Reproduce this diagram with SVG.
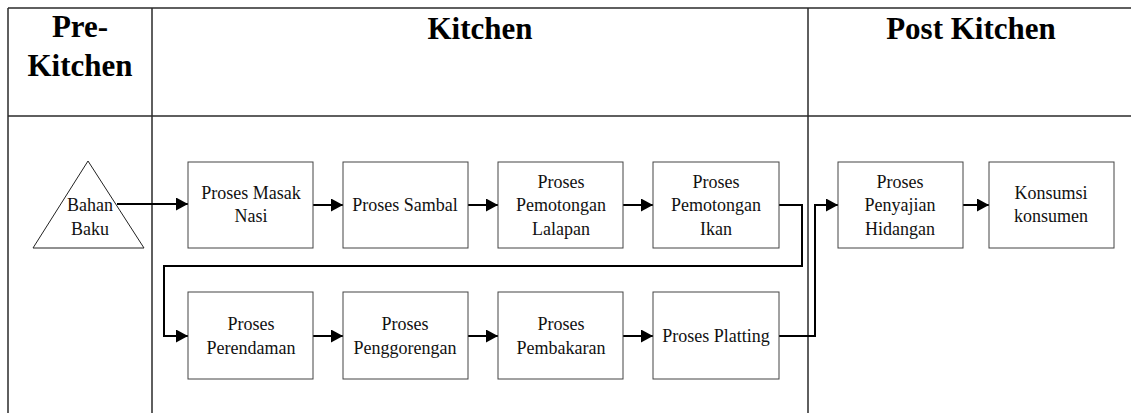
<svg xmlns="http://www.w3.org/2000/svg" width="1131" height="413" viewBox="0 0 1131 413">
  <defs>
    <marker id="arrow" viewBox="0 0 12 13" refX="12" refY="6.5" markerWidth="12" markerHeight="13" markerUnits="userSpaceOnUse" orient="auto">
      <path d="M0,0 L12,6.5 L0,13 Z" fill="#000"/>
    </marker>
  </defs>
  <style>
    .grid { stroke: #2a2a2a; stroke-width: 1.5; fill: none; }
    .hdr { font-family: "Liberation Serif", "Times New Roman", serif; font-weight: bold; font-size: 31px; fill: #000; text-anchor: middle; }
    .box { fill: #fff; stroke: #444; stroke-width: 1; }
    .lbl { font-family: "Liberation Serif", "Times New Roman", serif; font-size: 18px; fill: #111; text-anchor: middle; }
    .conn { fill: none; stroke: #000; stroke-width: 2; }
  </style>
  <rect width="1131" height="413" fill="#fff"/>

  <!-- swimlane table -->
  <g id="lanes">
    <line class="grid" x1="8" y1="8" x2="1131" y2="8"/>
    <line class="grid" x1="8" y1="116" x2="1131" y2="116"/>
    <line class="grid" x1="8" y1="8" x2="8" y2="413"/>
    <line class="grid" x1="152" y1="8" x2="152" y2="413"/>
    <line class="grid" x1="808" y1="8" x2="808" y2="413"/>
    <text class="hdr" x="80" y="37">Pre-</text>
    <text class="hdr" x="80" y="76">Kitchen</text>
    <text class="hdr" x="480" y="39">Kitchen</text>
    <text class="hdr" x="971" y="39">Post Kitchen</text>
  </g>

  <!-- connectors -->
  <g id="connectors">
    <line class="conn" x1="117" y1="204" x2="188" y2="204" marker-end="url(#arrow)"/>
    <line class="conn" x1="313" y1="205" x2="343" y2="205" marker-end="url(#arrow)"/>
    <line class="conn" x1="468" y1="205" x2="498" y2="205" marker-end="url(#arrow)"/>
    <line class="conn" x1="623" y1="205" x2="653" y2="205" marker-end="url(#arrow)"/>
    <polyline class="conn" points="779,205 802,205 802,266 164,266 164,336 188,336" marker-end="url(#arrow)"/>
    <line class="conn" x1="313" y1="336" x2="343" y2="336" marker-end="url(#arrow)"/>
    <line class="conn" x1="468" y1="336" x2="498" y2="336" marker-end="url(#arrow)"/>
    <line class="conn" x1="623" y1="336" x2="653" y2="336" marker-end="url(#arrow)"/>
    <polyline class="conn" points="779,336 815,336 815,205 838,205" marker-end="url(#arrow)"/>
    <line class="conn" x1="963" y1="205" x2="989" y2="205" marker-end="url(#arrow)"/>
  </g>

  <g id="bahan-baku">
    <polygon points="88,161 33,248 144,248" fill="#fff" stroke="#222" stroke-width="1"/>
    <text class="lbl" x="90" y="211">Bahan</text>
    <text class="lbl" x="90" y="235">Baku</text>
  </g>

  <g id="masak-nasi">
    <rect class="box" x="188" y="162" width="125" height="86"/>
    <text class="lbl" x="251" y="199">Proses Masak</text>
    <text class="lbl" x="251" y="222">Nasi</text>
  </g>

  <g id="sambal">
    <rect class="box" x="343" y="162" width="125" height="86"/>
    <text class="lbl" x="405" y="211">Proses Sambal</text>
  </g>

  <g id="pemotongan-lalapan">
    <rect class="box" x="498" y="162" width="125" height="86"/>
    <text class="lbl" x="561" y="188">Proses</text>
    <text class="lbl" x="561" y="211">Pemotongan</text>
    <text class="lbl" x="561" y="235">Lalapan</text>
  </g>

  <g id="pemotongan-ikan">
    <rect class="box" x="653" y="162" width="126" height="86"/>
    <text class="lbl" x="716" y="188">Proses</text>
    <text class="lbl" x="716" y="211">Pemotongan</text>
    <text class="lbl" x="716" y="235">Ikan</text>
  </g>

  <g id="perendaman">
    <rect class="box" x="188" y="292" width="125" height="87"/>
    <text class="lbl" x="251" y="330">Proses</text>
    <text class="lbl" x="251" y="354">Perendaman</text>
  </g>

  <g id="penggorengan">
    <rect class="box" x="343" y="292" width="125" height="87"/>
    <text class="lbl" x="405" y="330">Proses</text>
    <text class="lbl" x="405" y="354">Penggorengan</text>
  </g>

  <g id="pembakaran">
    <rect class="box" x="498" y="292" width="125" height="87"/>
    <text class="lbl" x="561" y="330">Proses</text>
    <text class="lbl" x="561" y="354">Pembakaran</text>
  </g>

  <g id="platting">
    <rect class="box" x="653" y="292" width="126" height="87"/>
    <text class="lbl" x="716" y="342">Proses Platting</text>
  </g>

  <g id="penyajian">
    <rect class="box" x="838" y="162" width="125" height="86"/>
    <text class="lbl" x="900" y="188">Proses</text>
    <text class="lbl" x="900" y="211">Penyajian</text>
    <text class="lbl" x="900" y="235">Hidangan</text>
  </g>

  <g id="konsumsi">
    <rect class="box" x="989" y="162" width="125" height="86"/>
    <text class="lbl" x="1051" y="199">Konsumsi</text>
    <text class="lbl" x="1051" y="222">konsumen</text>
  </g>
</svg>
